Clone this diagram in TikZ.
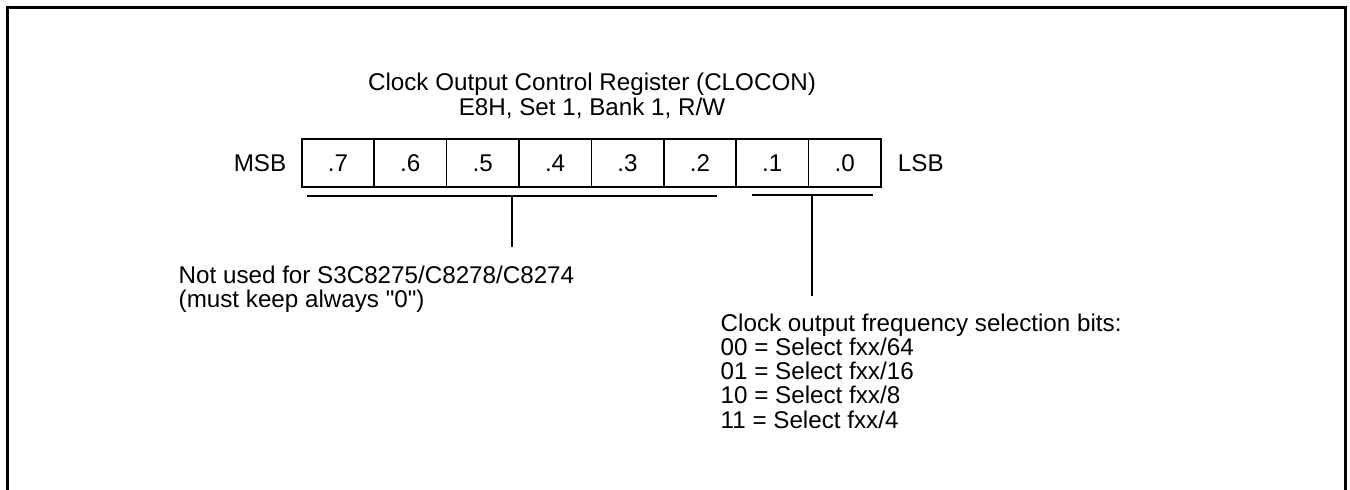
\documentclass[tikz,border=0pt]{standalone}
\usepackage{fontspec}
\newfontfamily\regfont{Liberation Sans}
\usetikzlibrary{math, positioning}

\begin{document}
\begin{tikzpicture}[x=1pt, y=-1pt,
  every node/.style={font=\regfont\fontsize{24.2}{24.3}\selectfont, inner sep=0},
  bitcell/.style={draw, line width=1.6, minimum width=72.4pt, minimum height=48pt}]
\tikzmath{
\xo=301.7;
\w=72.4;
\yc=163;
}
\useasboundingbox (0,0) rectangle (1350,490);

% frame
\draw[line width=3] (7,490) -- (7,7) -- (1345.5,7) -- (1345.5,490);

\node (title) at (592,115) [anchor=base, align=center] {Clock Output Control Register (CLOCON)\\E8H, Set 1, Bank 1, R/W};

\node[bitcell] (b7) at (\xo+0.5*\w,\yc) {.7};
\node[bitcell] (b6) at (\xo+1.5*\w,\yc) {.6};
\node[bitcell] (b5) at (\xo+2.5*\w,\yc) {.5};
\node[bitcell] (b4) at (\xo+3.5*\w,\yc) {.4};
\node[bitcell] (b3) at (\xo+4.5*\w,\yc) {.3};
\node[bitcell] (b2) at (\xo+5.5*\w,\yc) {.2};
\node[bitcell] (b1) at (\xo+6.5*\w,\yc) {.1};
\node[bitcell] (b0) at (\xo+7.5*\w,\yc) {.0};

\node[left=14.5pt of b7] (msb) {MSB};
\node[right=16pt of b0] (lsb) {LSB};

\coordinate (ul) at (307.3,196);
\coordinate (ur) at (716.7,196);
\coordinate (um) at (512,196);
\coordinate (ue) at (512,247);
\draw[line width=1.6] (ul) -- (ur);
\draw[line width=1.6] (um) -- (ue);

\coordinate (fl) at (751.7,195);
\coordinate (fr) at (872.7,195);
\coordinate (fm) at (812.2,195);
\coordinate (fe) at (812.2,295.7);
\draw[line width=1.6] (fl) -- (fr);
\draw[line width=1.6] (fm) -- (fe);

\node (unused) at (178.5,307.3) [anchor=base west, align=left] {Not used for S3C8275/C8278/C8274\\(must keep always "0")};
\node (freq) at (720.5,428.2) [anchor=base west, align=left] {Clock output frequency selection bits:\\00 = Select fxx/64\\01 = Select fxx/16\\10 = Select fxx/8\\11 = Select fxx/4};
\end{tikzpicture}
\end{document}
